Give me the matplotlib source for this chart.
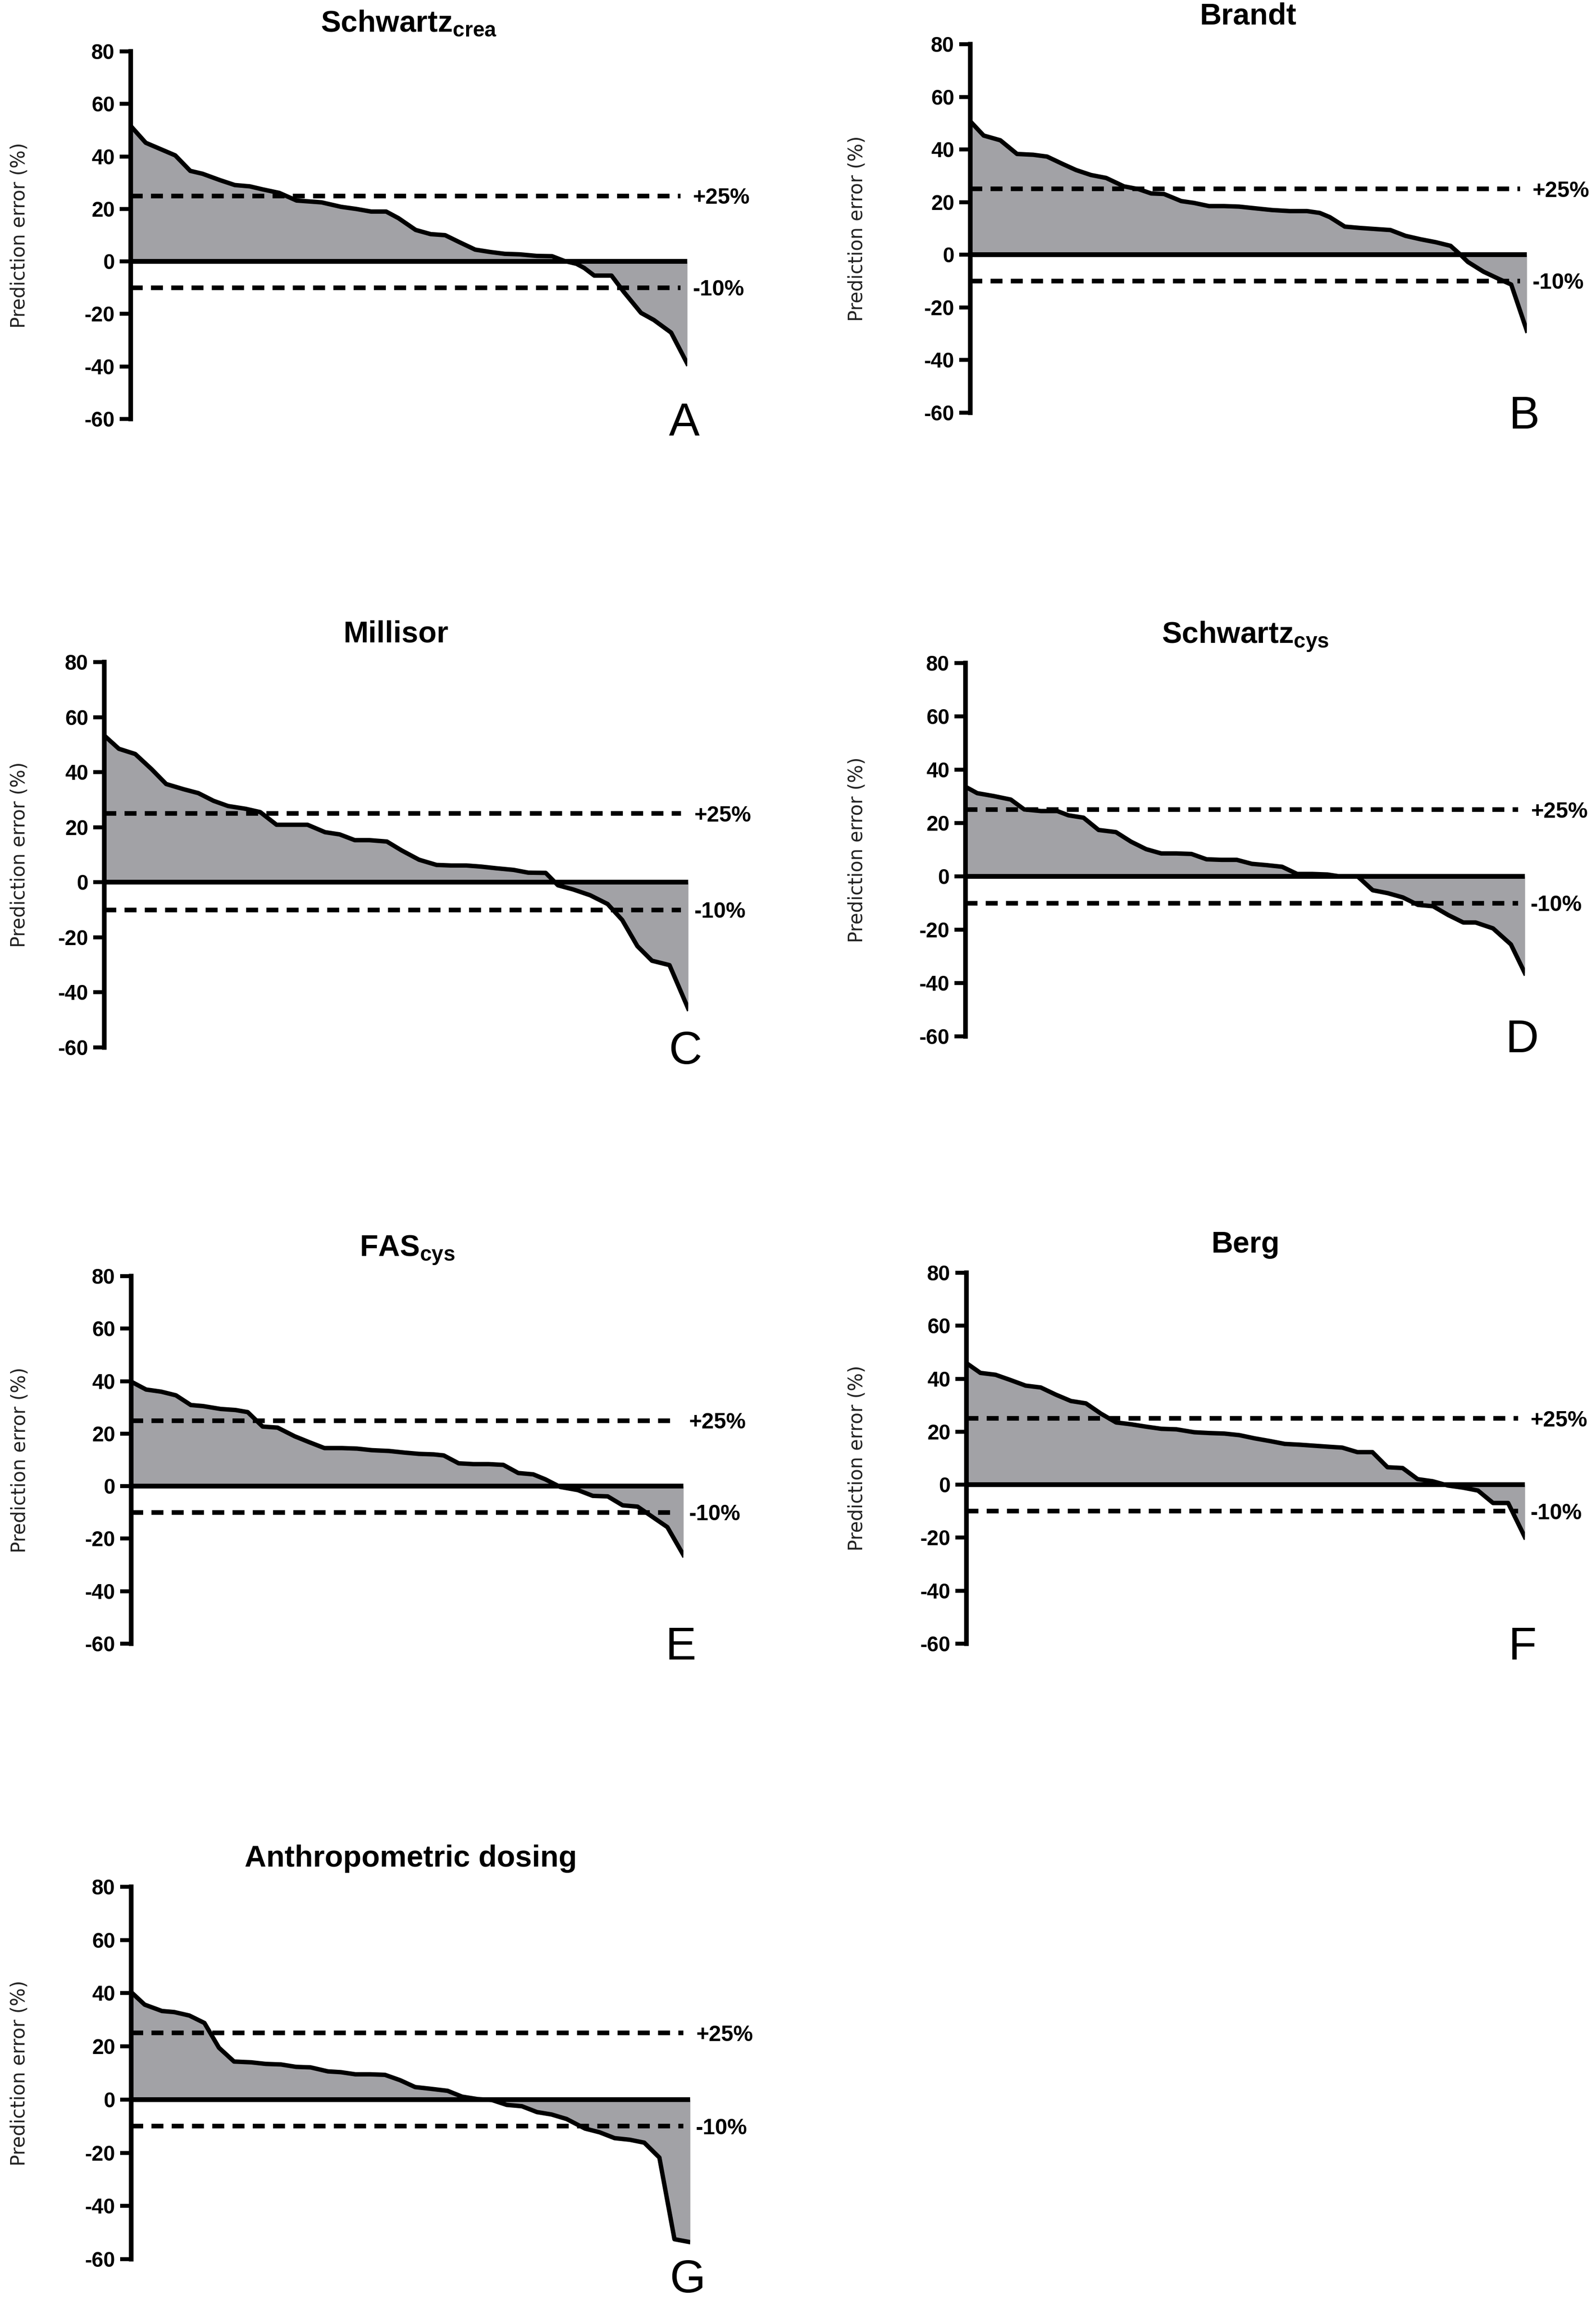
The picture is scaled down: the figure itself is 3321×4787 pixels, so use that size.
import matplotlib
matplotlib.use("Agg")
import matplotlib.pyplot as plt

plt.rcParams['font.family'] = ['Liberation Sans', 'DejaVu Sans']
plt.rcParams['mathtext.fontset'] = 'custom'
plt.rcParams['mathtext.rm'] = 'Liberation Sans'
plt.rcParams['mathtext.bf'] = 'Liberation Sans:bold'
plt.rcParams['axes.unicode_minus'] = False

# patient rank (0-100, sorted) and prediction error (%)
rank_a = [0, 2.7, 8.0, 10.7, 12.9, 16.0, 18.7, 21.4, 23.6, 26.7, 29.8, 34.3, 37.8, 40.5, 43.2,
          45.9, 48.1, 51.2, 53.9, 56.5, 59.2, 61.9, 64.6, 67.2, 69.9, 73.0, 75.7, 77.9, 80.1,
          81.5, 83.3, 86.4, 88.6, 91.7, 94.0, 97.1, 100]
err_a = [51.6, 45.2, 40.4, 34.5, 33.4, 31.0, 29.1, 28.6, 27.5, 26.1, 23.2, 22.5, 20.8, 20.0, 19.0,
         19.0, 16.5, 12.0, 10.4, 10.0, 7.2, 4.5, 3.6, 2.9, 2.7, 2.1, 2.0, 0.2, -0.9,
         -2.5, -5.4, -5.4, -11.6, -19.6, -22.3, -27.1, -38.9]

rank_b = [0, 2.4, 5.4, 8.4, 11.3, 13.8, 16.7, 19.0, 21.7, 24.4, 27.6, 30.3, 32.5, 34.8, 37.9,
          40.2, 42.9, 45.6, 48.3, 51.0, 54.2, 57.4, 60.5, 62.8, 64.6, 67.3, 70.0, 72.7, 75.5,
          78.2, 80.9, 83.6, 86.3, 88.1, 89.4, 92.2, 94.9, 97.2, 100]
err_b = [50.7, 45.3, 43.5, 38.3, 38.0, 37.3, 34.4, 32.2, 30.3, 29.2, 26.0, 24.9, 23.3, 23.1, 20.4,
         19.7, 18.5, 18.5, 18.3, 17.7, 17.0, 16.6, 16.6, 15.9, 14.3, 10.7, 10.2, 9.8, 9.4,
         7.2, 5.9, 4.8, 3.4, 0.0, -2.7, -6.4, -9.1, -11.3, -28.8]

rank_c = [0, 2.5, 5.3, 8.1, 10.6, 13.6, 16.1, 18.7, 21.2, 24.2, 26.7, 29.5, 32.3, 34.8, 37.8,
          40.3, 42.9, 45.4, 48.4, 50.9, 53.9, 56.9, 59.4, 62.0, 64.5, 67.1, 70.1, 72.6, 75.6,
          77.7, 80.3, 83.2, 86.2, 88.7, 91.3, 93.8, 96.8, 100]
err_c = [53.3, 48.5, 46.6, 41.1, 35.7, 33.8, 32.4, 29.6, 27.7, 26.7, 25.5, 20.9, 20.9, 20.9, 18.2,
         17.4, 15.3, 15.3, 14.8, 11.6, 8.2, 6.3, 6.1, 6.1, 5.7, 5.1, 4.5, 3.5, 3.4,
         -1.1, -2.6, -4.7, -7.9, -13.7, -23.2, -28.5, -30.1, -45.9]

rank_d = [0, 2.1, 5.1, 8.1, 10.5, 13.5, 16.4, 18.4, 21.1, 23.8, 26.9, 29.6, 32.3, 35.0, 37.7,
          40.4, 43.1, 45.8, 48.5, 51.2, 53.9, 56.6, 59.3, 62.0, 64.7, 66.9, 70.1, 72.8, 75.5,
          78.2, 80.9, 83.6, 86.3, 89.0, 91.2, 94.3, 97.5, 100]
err_d = [33.6, 31.2, 30.1, 28.8, 25.1, 24.5, 24.5, 22.9, 22.0, 17.4, 16.6, 13.0, 10.2, 8.6, 8.6,
         8.4, 6.4, 6.2, 6.2, 4.7, 4.2, 3.6, 0.9, 0.9, 0.7, 0.0, 0.0, -5.2, -6.3,
         -7.9, -10.7, -11.2, -14.5, -17.3, -17.3, -19.5, -25.5, -36.3]

rank_e = [0, 2.7, 5.4, 8.1, 10.8, 13.0, 16.2, 18.9, 21.1, 23.8, 26.5, 29.6, 32.3, 35.0, 38.2,
          40.9, 43.6, 46.7, 49.4, 52.1, 54.8, 56.6, 59.3, 62.0, 64.7, 67.4, 70.1, 72.8, 75.0,
          77.7, 80.9, 83.6, 86.3, 89.0, 91.7, 94.4, 97.1, 100]
err_e = [39.8, 36.8, 36.0, 34.6, 30.9, 30.5, 29.4, 29.0, 28.2, 22.7, 22.3, 19.0, 16.7, 14.5, 14.5,
         14.3, 13.7, 13.4, 12.8, 12.3, 12.1, 11.7, 8.7, 8.4, 8.4, 8.1, 5.0, 4.5, 2.6,
         -0.3, -1.5, -3.7, -3.9, -7.3, -7.8, -11.7, -15.6, -26.2]

rank_f = [0, 2.5, 5.2, 7.9, 10.6, 13.3, 16.0, 18.7, 21.4, 24.1, 26.8, 29.5, 32.2, 34.9, 37.6,
          40.8, 43.5, 46.2, 48.9, 51.6, 54.3, 57.0, 59.7, 62.4, 65.1, 67.3, 70.0, 72.7, 75.4,
          78.1, 80.8, 83.5, 86.2, 88.9, 91.6, 94.3, 97.0, 100]
err_f = [45.9, 42.2, 41.5, 39.5, 37.4, 36.7, 34.0, 31.6, 30.7, 26.8, 23.5, 22.8, 21.9, 21.1, 20.9,
         19.8, 19.5, 19.3, 18.7, 17.5, 16.5, 15.4, 15.1, 14.7, 14.3, 14.0, 12.3, 12.3, 6.6,
         6.3, 2.1, 1.3, -0.3, -1.1, -2.2, -6.9, -6.9, -19.8]

rank_g = [0, 2.4, 5.5, 7.7, 10.4, 13.1, 15.7, 18.4, 21.5, 24.1, 26.8, 29.5, 32.1, 35.2, 37.5,
          40.1, 42.8, 45.4, 48.1, 50.8, 53.4, 56.6, 59.2, 61.9, 64.6, 67.2, 69.9, 72.6, 75.2,
          77.9, 81.2, 83.8, 86.5, 89.2, 91.8, 94.5, 97.2, 100]
err_g = [40.4, 35.7, 33.3, 32.9, 31.6, 28.8, 19.5, 14.3, 14.0, 13.4, 13.2, 12.3, 12.1, 10.6, 10.3,
         9.5, 9.5, 9.3, 7.3, 4.7, 4.1, 3.3, 1.1, 0.2, -0.2, -2.0, -2.5, -4.7, -5.6,
         -7.3, -10.9, -12.3, -14.5, -15.1, -16.2, -21.8, -52.5, -53.6]

titles = [r'$\mathbf{Schwartz}_{\mathbf{crea}}$', 'Brandt', 'Millisor',
          r'$\mathbf{Schwartz}_{\mathbf{cys}}$', r'$\mathbf{FAS}_{\mathbf{cys}}$', 'Berg',
          'Anthropometric dosing']
letters = ['A', 'B', 'C', 'D', 'E', 'F', 'G']
ranks = [rank_a, rank_b, rank_c, rank_d, rank_e, rank_f, rank_g]
errors = [err_a, err_b, err_c, err_d, err_e, err_f, err_g]
upper_limit = 25
lower_limit = -10

W, H, DPI = 3321, 4787, 300
# axes boxes in pixels: left, top, right, bottom ; y-label centre x ; letter y (data)
boxes = [(272, 107, 1430, 872, 43, -61.5), (2019, 92, 3177, 859, 1785, -61.5),
         (217, 1378, 1432, 2180, 43, -61.5), (2009, 1380, 3173, 2157, 1785, -61.5),
         (273, 2656, 1422, 3421, 43, -61.5), (2011, 2649, 3173, 3421, 1785, -61.5),
         (273, 3927, 1436, 4702, 43, -68)]

fill_col = '#a2a2a6'

fig = plt.figure(figsize=(W / DPI, H / DPI), dpi=DPI)

for i in range(7):
    l, t, r, b, lab_x, let_y = boxes[i]
    ax = fig.add_axes([l / W, 1 - b / H, (r - l) / W, (b - t) / H])
    x = ranks[i]
    y = errors[i]

    ax.fill_between(x, y, 0, color=fill_col, lw=0, zorder=1)
    ax.plot(x, y, color='black', lw=2.2, zorder=3, solid_joinstyle='round')
    ax.axhline(0, color='black', lw=2.4, zorder=4)
    ax.axhline(upper_limit, xmax=0.988, color='black', lw=2.3, ls=(0, (2.6, 1.8)), zorder=5)
    ax.axhline(lower_limit, xmax=0.988, color='black', lw=2.3, ls=(0, (2.6, 1.8)), zorder=5)

    tr = ax.get_yaxis_transform()
    ax.text(1.01, upper_limit - 0.8, '+%d%%' % upper_limit, transform=tr, ha='left', va='center',
            fontsize=11, fontweight='bold')
    ax.text(1.01, lower_limit - 0.8, '%d%%' % lower_limit, transform=tr, ha='left', va='center',
            fontsize=11, fontweight='bold')
    ax.text(0.995, let_y, letters[i], transform=tr, ha='center', va='center', fontsize=23,
            clip_on=False)

    ax.set_xlim(0, 100)
    ax.set_ylim(-60, 80)
    ax.set_yticks(range(-60, 81, 20))
    ax.set_xticks([])
    for s in ['top', 'right', 'bottom']:
        ax.spines[s].set_visible(False)
    ax.spines['left'].set_linewidth(2.3)
    ax.tick_params(axis='y', length=5.5, width=2.0, pad=2.5, labelsize=10.5)
    for lbl in ax.get_yticklabels():
        lbl.set_fontweight('bold')

    ax.set_ylabel('Prediction error (%)', family='DejaVu Sans', fontsize=9.5, color='#222222')
    ax.yaxis.set_label_coords((lab_x + 18 - l) / (r - l), 0.5)

    ax.set_title(titles[i], fontsize=15, fontweight='bold', pad=10)

fig.savefig('out.png', dpi=DPI)
